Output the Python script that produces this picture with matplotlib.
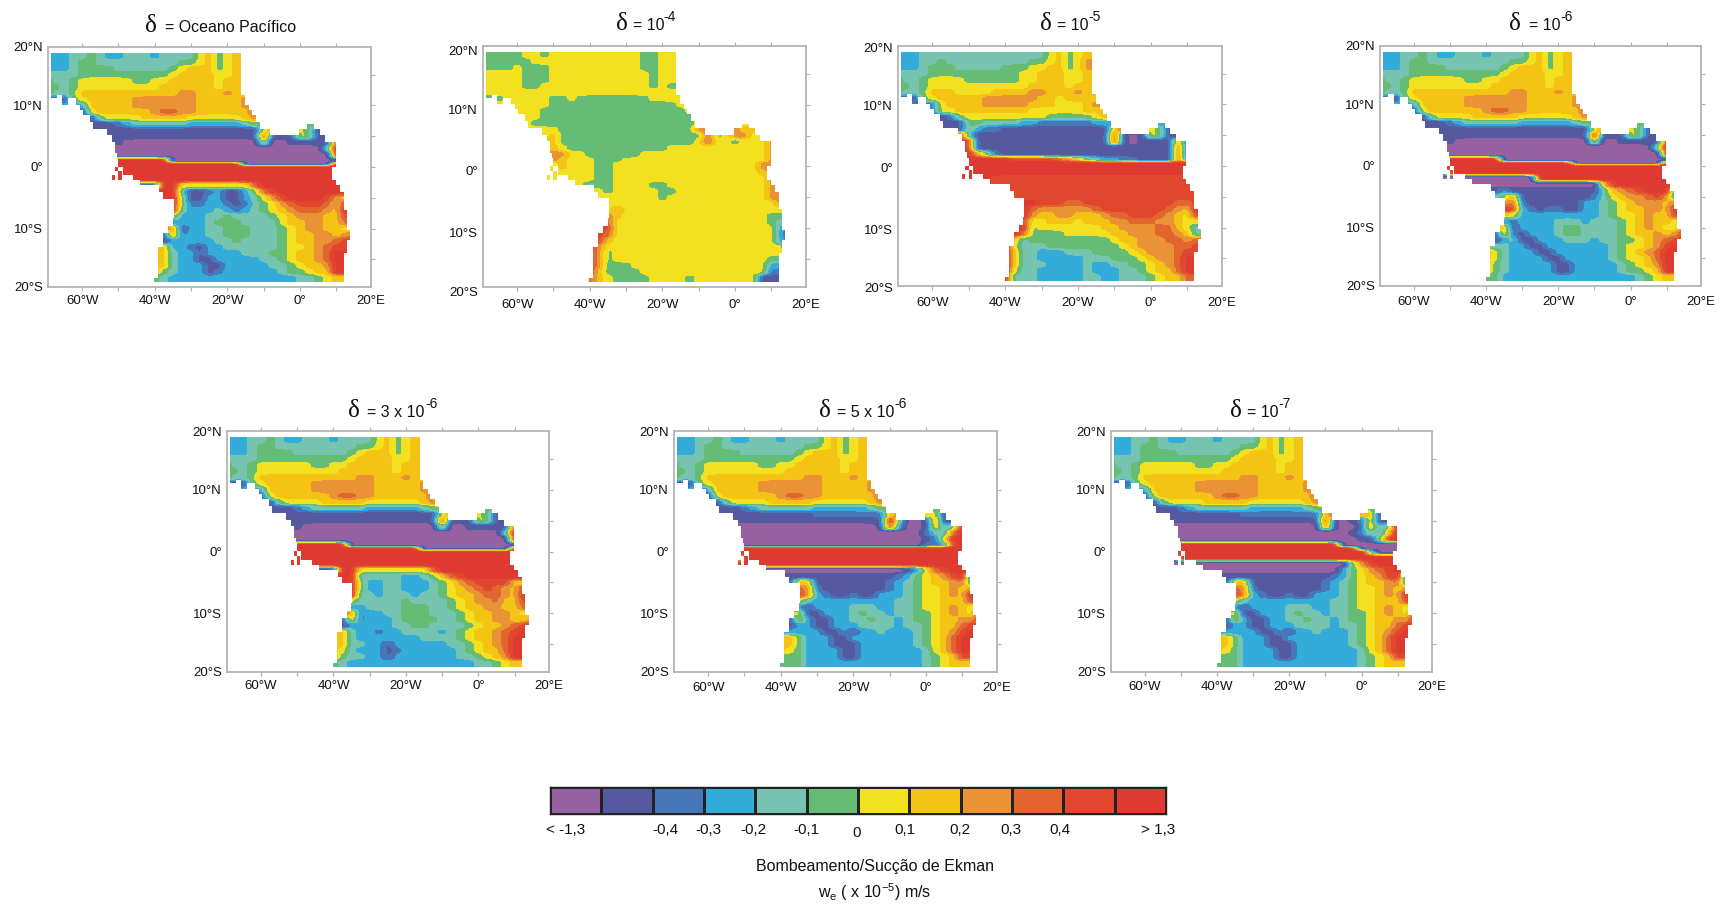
import numpy as np
import matplotlib
matplotlib.use("Agg")
import matplotlib.pyplot as plt
from matplotlib.colors import ListedColormap, BoundaryNorm
from matplotlib.transforms import ScaledTranslation

plt.rcParams['font.family'] = ['Liberation Sans', 'DejaVu Sans']
plt.rcParams['mathtext.fontset'] = 'custom'
plt.rcParams['mathtext.rm'] = 'Liberation Sans'

W, H = 1724, 907

# classes de la legende, du violet (< -1,3) au rouge (> 1,3)
CLASS_COLORS = ['#9561a0', '#555aa0', '#4678b9', '#33abdb', '#75c4b0', '#65bd75',
                '#f3e01f', '#f4c414', '#ea9236', '#e2652d', '#e1472e', '#de3a32']
LEGEND_CLASSES = list(range(12))
LEGEND_LABELS = ['< -1,3', '-0,4', '-0,3', '-0,2', '-0,1', '0', '0,1', '0,2', '0,3', '0,4', '> 1,3']

# classes lues sur la carte: colonnes de 70W a 15E (pas 2,5 deg), lignes aux latitudes de GRID_LAT
# 0-9, a, b = indice de classe, '.' = terre
GRID_LON = np.arange(-70, 15.1, 2.5)
GRID_LAT = np.array([18, 17, 16, 15, 14, 13, 12, 11, 10, 9, 8, 7, 6, 5, 4, 3, 2, 1, 0.5, 0,
                     -1, -2, -3, -4, -5, -6, -7, -8, -9, -10, -11, -12, -13, -14, -15, -16, -17, -18])

NORTH_A = [
    "3334454334443444467567",
    "3334554444444445567567",
    "3334555544444456777567",
    "4444555555555567777667",
    "6445666666556677777677",
    "6545666666666777777677",
    "6445777777777778877787",
    "11156777778888888777778",
    "....3777778888888777778",
    "....16777777899887777779",
]

MID_A = [
    ".....1566667777766666678",
    ".....1112344444433333345",
    ".......1111111111111111168...51",
    ".......11111111111111111a111651",
    "........100000000000000060011111a",
    "........000000000000000000000004b",
    "........000000000000000000000000b",
    "........bbbbbb0000000000000000001",
    ".......bbbbbbbbbbbbbbb0000000000b",
    ".......bbbbbbbbbbbbbbbbbbbbbbbbbb",
    ".......bbbbbbbbbbbbbbbbbbbbbbbbbb",
    "..........bbbbbbbbbbbbbbbbbbbbbbbb",
    "...........11bb666666669bbbbbbbbbb",
]

SOUTH_PACIFICO = [
    ".............bb4112311359abbbbbbbb",
    ".............bb51133113468abbbba87",
    "..............b5223321245689aaa97a",
    "..............b433343234567899987b",
    "..............6333445444456788877a",
    "..............33334555444467788779",
    ".............8813344555444567887767",
    ".............1823344555444567788789",
    ".............13333344544445677889a",
    ".............7332133444444566789aa",
    "............77433133334445567789b",
    "............77433113333344567789b",
    "............77433311333334456778b",
    "............75433312333333455677b",
    "............5433333333333333445677",
]

SOUTH_3E6 = [
    ".............bb44444334579abbbbbbb",
    ".............bb5334433345689aaaa77",
    "..............b53344333456789a987a",
    "..............b443444344567789987b",
    "..............6444445444456788977a",
    "..............33444455544567788779",
    ".............8823344555444567788767",
    ".............1723334555544567788778",
    ".............13333344554444567789a",
    ".............7433233444434567789ab",
    "............77433333334444567789b",
    "............77443313333334456789b",
    "............76433312333333456779b",
    "............75443313333333445678b",
    "............5433333333333333445677",
]

ROWS_1E5 = [
    "3334444444444444467567",
    "3334454444444445567568",
    "3334555444445556677568",
    "4444555555555566777667",
    "6445666655555566777667",
    "6545666666666667777677",
    "6445777666677778877787",
    "11156777778888887767777",
    "....2677778888877766678",
    "....266777777776666667778",
    ".....1256666666665555567",
    ".....1115544443322222233",
    ".......1532211111111111179...51",
    ".......a4111111111111111a101651",
    "........a111111111111111a10111181",
    "........a111111111111111111111191",
    "........b752111111111111111111191",
    "........bbbbbaaaaa987543322111192",
    ".......bbbbbbbbbbbbbbbbbbbbbbbbbb",
    ".......bbbbbbbbbbbbbbbbbbbbbbbbbb",
    ".......bbbbbbbbbbbbbbbbbbbbbbbbbb",
    "..........baaaaaaaaaaaaaaaaaaaaaaa",
    "...........aaaaaaaaaaaaaaaaaaaaaaa",
    ".............aaaaaaaaaaaaaaaaaaaaa",
    ".............aaaaaaaaaaaaaaaaaaaaa",
    "..............bbaaa99aaaaaaaaaa99a",
    "..............b98888889aaaaaaa987b",
    "..............b87788777899aaa9876a",
    "..............a6677767778899988766",
    ".............bb56666666778888997645",
    ".............b955556666677888998745",
    ".............745555555556778889989",
    "............b64445555555567888899a",
    "............b7443334445555678889a",
    "............b7443333344455567889b",
    "............b7444333343344556789b",
    "............b6443333343334456779b",
    "............b44433333443344456779",
]

ROWS_1E4 = [
    "5555566566666666665566",
    "5555556666666666665566",
    "5555655566666666665566",
    "6666655566666666666566",
    "6666655566666666666566",
    "6666655666666666666565",
    "6666666666666666666666",
    "55566666556555555556666",
    "....6666555555555555556",
    "....66655555555555555556",
    ".....66555555555555555556",
    ".....65555555555555555556",
    ".......665555555555555558...87",
    ".......675555555555555555956886",
    "........7555555555555555696656668",
    "........7655555555555666666666668",
    "........8866555555666666666666668",
    "........8766655566666666666666668",
    ".......5676665566666666666666668",
    ".......5676665566666666666666668",
    ".......56666655666666666666666678",
    "..........66655666666666666666668",
    "...........6455666655666666666668 8",
    ".............6566666556666666666 88",
    ".............66666665666666666668 8",
    "..............66666666666666666668",
    "..............68666666666666666666",
    "..............87666666666666666655",
    "..............96666666666666666654",
    ".............aa66666666666666666632",
    ".............a966666666666666666631",
    ".............a766666666666666666632",
    "............b8666666666666666666663",
    "............a85666666666666666666",
    "............a85666666666666666665",
    "............a85556666666666666663",
    "............a75555666666666666662",
    "............97655556666566666661",
]

MID_1E6 = [
    ".....1566667777766666678",
    ".....1112344444433333345",
    ".......1111111111111111168...51",
    ".......11111111111111111b111651",
    "........100000000000000070011111b",
    "........000000000000000000000005b",
    "........000000000000000000000000b",
    "........bbbbbb0000000000000000001",
    ".......bbbbbbbbbbbbbbb0000000000b",
    ".......bbbbbbbbbbbbbbbbbbbbbbbbbb",
    ".......0bbbbbbbbbbbbbbbbbbbbbbbbb",
    "..........00000000bbbbbbbbbbbbbbbb",
    "...........000000000000007abbbbbbb",
    ".............1311111111114789abbb3",
    ".............458111111112467889a83",
    "..............89211111133456788879",
    "..............aa32122113345677887b",
    "..............7633333333345667877a",
    "..............32333344434445678776",
    ".............7713333455444456787669",
    ".............172133345544445677878a",
    ".............13411333444344556789a",
    ".............4433113333333456678ab",
    "............76433311333333456789b",
    "............76433331133333456679b",
    "............75433333113333345678b",
    "............75433333113333345567b",
    "............5533333333333333345677",
]

MID_5E6 = [
    ".....1566667777766666678",
    ".....1112344444433333345",
    ".......1111111112222222278...61",
    ".......11111111111111111b500181",
    "........0000000000000001a3001735b",
    "........000000000000000000002449b",
    "........00000000000000000000126bb",
    "........00000000000000000000223ab",
    ".......bbbbbbbbbbbbbbbbbbbbbbbbbb",
    ".......bbbbbbbbbbbbbbbbbbbbbbbbbb",
    ".......0bbbbbbbbbbbbbbbbbbbbbbbbb",
    "..........bbbbbbbbbbbbbbbbbbbbbbbb",
    "...........0000000000000001369abbb",
    ".............111111111111235678ab2",
]

MID_1E7 = [
    ".....1566667777766666678",
    ".....1112344444433333345",
    ".......1111111122222222279...71",
    ".......11111111111111111a101271",
    "........000000000000000091002735b",
    "........000000000000000000012537b",
    "........00000000000000000000115ab",
    "........bbbbbbbbbbbbbbbbbb0000000",
    ".......bbbbbbbbbbbbbbbbbbbbb00000",
    ".......bbbbbbbbbbbbbbbbbbbbbb5000",
    ".......0bbbbbbbbbbbbbbbbbbbbbbbbb",
    "..........0000000000000000058abbbb",
    "...........00000000000000035689abb",
    ".............111111111111235678ab2",
]

SOUTH_WEAK = [
    ".............177111111112345677893",
    "..............98211111112345667878",
    "..............a832112113334566787b",
    "..............6433333333344566777a",
    "..............31333344433445667876",
    ".............661133345443445567876a",
    ".............163113344544345567788a",
    ".............13311333444434456779a",
    ".............3333113133433345678ab",
    "............77533311333333345679b",
    "............77533311133333345679b",
    "............76533331133333334679b",
    "............55533331133333334567a",
    "............555333333333333345677",
]

PANEL_ROWS = [
    NORTH_A + MID_A + SOUTH_PACIFICO,
    ROWS_1E4,
    ROWS_1E5,
    NORTH_A + MID_1E6,
    NORTH_A + MID_A + SOUTH_3E6,
    NORTH_A + MID_5E6 + SOUTH_WEAK,
    NORTH_A + MID_1E7 + SOUTH_WEAK,
]

# contour de la cote, lu une fois: meme masque pour toutes les cartes
COAST_LAT_TOP = [18.4, 11.6, 11.1, 10.0, 9.2, 8.4, 7.3, 6.2, 5.1, 4.05, 2.2, 1.35, 0.0, -1.35, -2.15,
                 -3.0, -4.05, -5.15, -7.0, -8.4, -9.7, -10.3, -10.8, -11.9, -13.0, -14.0, -18.1]
COAST_LAT_BOTTOM = COAST_LAT_TOP[1:] + [-18.65]
COAST_WEST = [-68.5, -65.7, -61.8, -60.7, -59.7, -57.9, -57.0, -53.1, -51.9, -51.0, -50.4, -50.1, -48.9, -46.0, -44.1,
              -38.8, -37.7, -34.9, -34.9, -35.1, -36.3, -36.3, -37.7, -37.7, -39.1, -39.1, -40.2]
COAST_EAST = [-16.3, -15.2, -15.2, -14.0, -13.3, -12.1, -11.0, -8.3, 6.9, 9.7, 9.7, 9.7, 8.7, 8.7, 9.7,
              10.8, 11.9, 11.9, 12.9, 12.9, 12.9, 13.8, 13.8, 12.9, 12.9, 11.9, 11.9]
# cellules isolees: (lat haut, lat bas, lon ouest, lon est)
EXTRA_CELLS = [(11.6, 11.1, -68.5, -67.1), (11.1, 10.0, -65.7, -63.9), (6.2, 5.0, -0.5, 5.3), (6.9, 6.0, 1.8, 3.7),
               (0.0, -0.65, -51.0, -50.1), (-0.65, -1.35, -50.1, -49.2),
               (-1.35, -2.15, -51.9, -51.0), (-1.35, -2.15, -50.1, -49.2)]

TITLES = ["= Oceano Pacífico", "= 10", "= 10", "= 10", "= 3 x 10", "= 5 x 10", "= 10"]
EXPONENTS = ["", "-4", "-5", "-6", "-6", "-6", "-7"]

X_TICKS = [-60, -50, -40, -30, -20, -10, 0, 10, 19.5]
X_LABELS = ['60°W', '', '40°W', '', '20°W', '', '0°', '', '20°E']
Y_TICKS = [19.5, 15, 10, 5, 0, -5, -10, -15, -19.5]
Y_LABELS = ['20°N', '', '10°N', '', '0°', '', '10°S', '', '20°S']

# mise en page en pixels
PANEL_BOX = [(48, 47, 371, 287), (483, 46, 806, 287), (898, 46, 1222, 286), (1380, 46, 1701, 286),
             (227, 431, 549, 672), (674, 431, 997, 672), (1111, 431, 1432, 672)]
DELTA_X = [151, 622, 1046, 1515, 354, 825, 1236]
TITLE_X = [165, 633, 1057, 1529, 367, 837, 1247]
EXP_X = [0, 663, 1088, 1560, 425, 894, 1278]
TITLE_Y = [32, 30, 30, 30, 417, 417, 417]
X_PAD = [3, 6, 5, 4.5, 3, 4, 3.5]
Y_LABEL_DY = [0, -4.5, -1.5, 0, 0, 0, 0]
LEGEND_LABEL_X = [566, 665, 708, 753, 806, 857, 905, 960, 1011, 1060, 1158]

FINE_LON = np.arange(-70, 15.01, 0.1)
FINE_LAT = np.arange(18.6, -18.8, -0.1)


def lire_grille(rows):
    # bouche la terre ligne par ligne pour pouvoir interpoler jusqu'a la cote
    grille = np.zeros((len(GRID_LAT), len(GRID_LON)))
    for i, row in enumerate(rows):
        row = row.replace(" ", "").ljust(len(GRID_LON), '.')[:len(GRID_LON)]
        ok = [j for j, c in enumerate(row) if c != '.']
        vals = [int(row[j], 16) for j in ok]
        grille[i] = np.interp(np.arange(len(GRID_LON)), ok, vals)
    return grille


def lisser(ligne, n):
    bord = np.pad(ligne, n, mode='edge')
    return np.convolve(bord, np.ones(n) / n, mode='same')[n:-n]


def affiner(grille):
    # passage a la maille fine, fronts raides en latitude puis lissage en longitude
    par_lon = np.array([np.interp(FINE_LON, GRID_LON, ligne) for ligne in grille])
    idx = np.arange(len(GRID_LAT))
    pos = np.interp(-FINE_LAT, -GRID_LAT, idx)
    base = np.floor(pos)
    t = pos - base
    t = t * t * (3 - 2 * t)
    t = t * t * (3 - 2 * t)
    fine = np.array([np.interp(base + t, idx, col) for col in par_lon.T]).T
    fine = np.array([lisser(lisser(ligne, 25), 13) for ligne in fine])
    fine = np.array([lisser(col, 5) for col in fine.T]).T
    return fine


def masque_ocean():
    lon, lat = np.meshgrid(FINE_LON, FINE_LAT)
    ocean = np.zeros(lon.shape, dtype=bool)
    for top, bot, w, e in zip(COAST_LAT_TOP, COAST_LAT_BOTTOM, COAST_WEST, COAST_EAST):
        ocean |= (lat <= top) & (lat > bot) & (lon >= w) & (lon <= e)
    for top, bot, w, e in EXTRA_CELLS:
        ocean |= (lat <= top) & (lat > bot) & (lon >= w) & (lon <= e)
    return ocean


def axes_px(fig, left, top, right, bottom):
    return fig.add_axes([left / W, 1 - bottom / H, (right - left) / W, (bottom - top) / H])


def texte_px(fig, x, y, s, **kw):
    return fig.text(x / W, 1 - y / H, s, **kw)


cmap = ListedColormap(CLASS_COLORS)
norm = BoundaryNorm(np.arange(-0.5, 12), 12)
ocean = masque_ocean()

fig = plt.figure(figsize=(W / 100, H / 100), dpi=100)

for k, rows in enumerate(PANEL_ROWS):
    ax = axes_px(fig, *PANEL_BOX[k])
    champ = np.ma.masked_where(~ocean, affiner(lire_grille(rows)))
    ax.pcolormesh(FINE_LON, FINE_LAT, champ, cmap=cmap, norm=norm, shading='nearest', rasterized=True)
    ax.set_xlim(-69.4, 19.5)
    ax.set_ylim(-19.5, 19.5)
    ax.set_xticks(X_TICKS, X_LABELS, fontsize=9.5)
    ax.set_yticks(Y_TICKS, Y_LABELS, fontsize=9.5)
    ax.tick_params(top=True, right=True, left=False, length=3, width=0.8, color='#b0b0b0', labelcolor='#111111')
    ax.tick_params(axis='x', pad=X_PAD[k])
    ax.tick_params(axis='y', pad=0.5)
    if Y_LABEL_DY[k]:
        decale = ScaledTranslation(0, Y_LABEL_DY[k] / 100, fig.dpi_scale_trans)
        for label in ax.get_yticklabels():
            label.set_transform(label.get_transform() + decale)
    # pas de trait aux coins, seulement le libelle
    for tick in (ax.xaxis.get_major_ticks()[-1], ax.yaxis.get_major_ticks()[0], ax.yaxis.get_major_ticks()[-1]):
        tick.tick1line.set_visible(False)
        tick.tick2line.set_visible(False)
    for spine in ax.spines.values():
        spine.set_color('#b4b4b4')
        spine.set_linewidth(1.3)

    y = TITLE_Y[k]
    texte_px(fig, DELTA_X[k], y, 'δ', family='Liberation Serif', fontsize=18, ha='center', va='baseline', color='#111111')
    texte_px(fig, TITLE_X[k], y, TITLES[k], fontsize=11.5, ha='left', va='baseline', color='#111111')
    if EXPONENTS[k]:
        texte_px(fig, EXP_X[k], y - 9, EXPONENTS[k], fontsize=10, ha='left', va='baseline', color='#111111')

# legende
cax = axes_px(fig, 550, 787, 1166, 814)
cax.pcolormesh(np.arange(13), [0, 1], [LEGEND_CLASSES], cmap=cmap, norm=norm, edgecolors='#222222', linewidth=0.9)
cax.set_xticks([])
cax.set_yticks([])
for spine in cax.spines.values():
    spine.set_color('#222222')
    spine.set_linewidth(1.0)
for x, s in zip(LEGEND_LABEL_X, LEGEND_LABELS):
    texte_px(fig, x, 830 if s != '0' else 833, s, fontsize=11, ha='center', va='center', color='#111111')

texte_px(fig, 875, 866, 'Bombeamento/Sucção de Ekman', fontsize=11.5, ha='center', va='center', color='#111111')
texte_px(fig, 875, 892, r'w$_{\mathregular{e}}$ ( x 10$^{\mathregular{-5}}$) m/s', fontsize=11.5, ha='center', va='center', color='#111111')

fig.savefig('out.png', dpi=100)
